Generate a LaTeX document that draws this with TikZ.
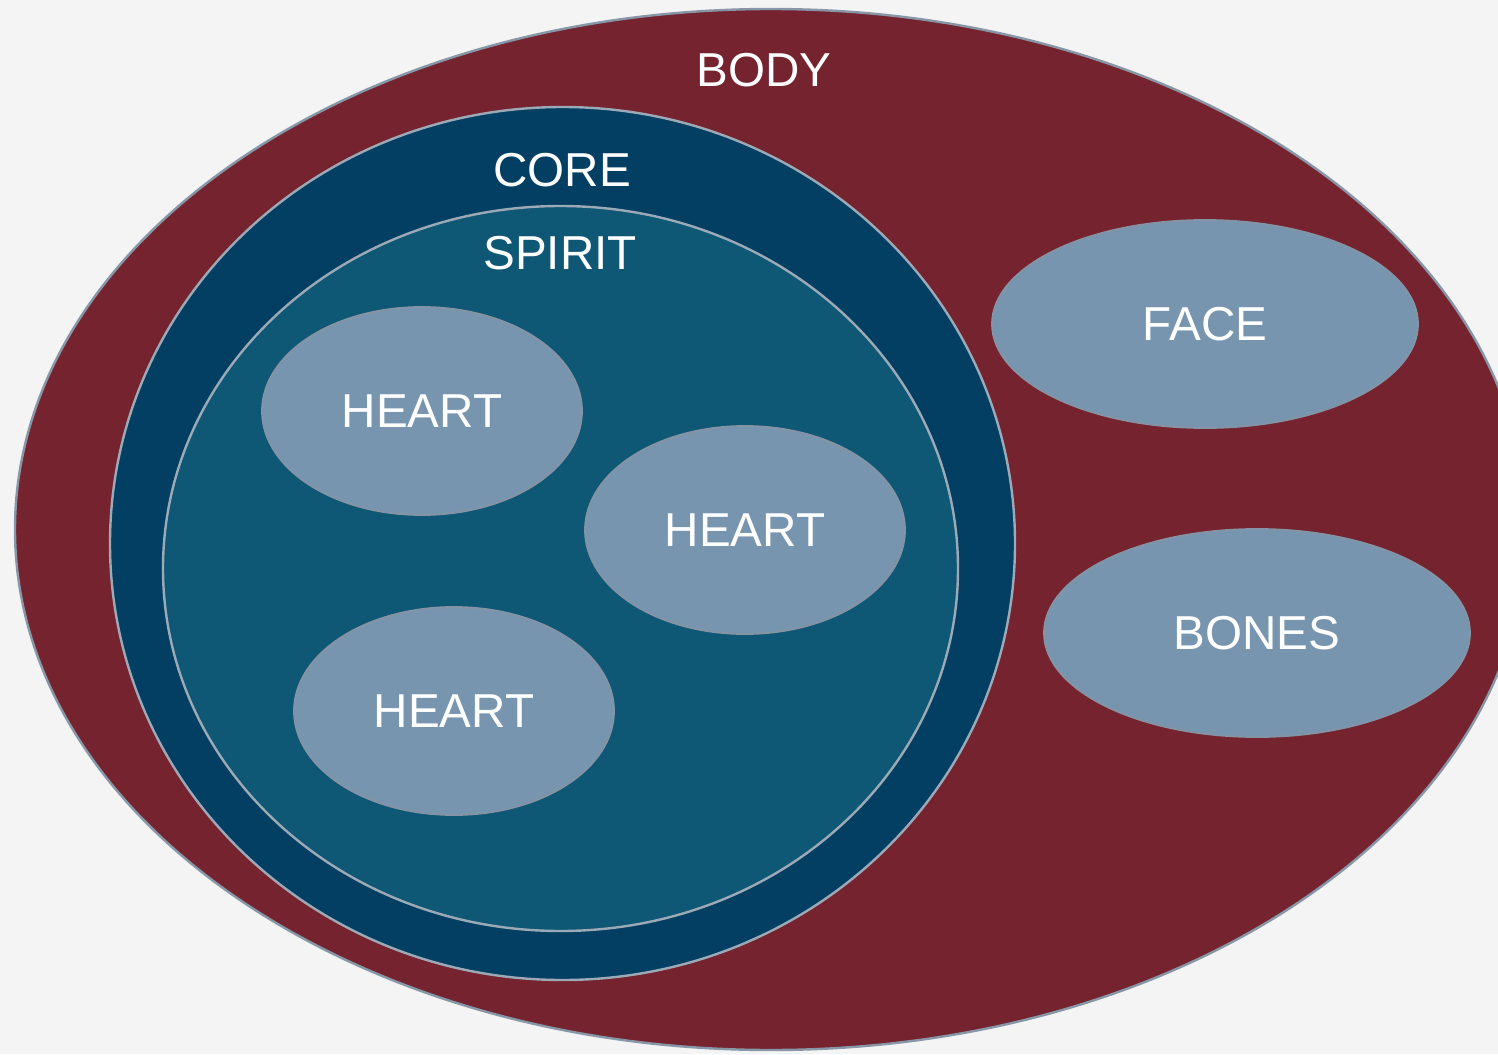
\documentclass[tikz,border=0pt]{standalone}
\usepackage{fontspec}
\setmainfont{Liberation Sans}
\usetikzlibrary{shapes.geometric}
\definecolor{bg}{HTML}{F4F4F4}
\definecolor{bodyred}{HTML}{74232F}
\definecolor{coreblue}{HTML}{023F62}
\definecolor{spiritblue}{HTML}{0E5775}
\definecolor{partblue}{HTML}{7895AF}
\definecolor{rimgray}{HTML}{8797A8}
\definecolor{rimlight}{HTML}{9CA9B6}
\definecolor{partrim}{HTML}{8494A4}
\begin{document}
\begin{tikzpicture}[x=0.5pt,y=-0.5pt,
  region/.style={ellipse,inner sep=0pt,line width=1.2pt},
  part/.style={ellipse,inner sep=0pt,fill=partblue,draw=partrim,line width=0.9pt,
    font=\fontsize{23.8}{28}\selectfont,text=white},
  title/.style={font=\fontsize{23.8}{28}\selectfont,text=white,inner sep=0pt}]
  \useasboundingbox (0,0) rectangle (1498,1054);
  \clip (0,0) rectangle (1498,1054);
  \fill[bg] (0,0) rectangle (1498,1054);
  % nested regions
  \node[region,fill=bodyred,draw=rimgray,minimum width=756pt,minimum height=520.5pt] (body) at (771,529.5) {};
  \node[region,fill=coreblue,draw=rimlight,minimum width=452.5pt,minimum height=436.5pt] (core) at (562.5,543.5) {};
  \node[region,fill=spiritblue,draw=rimlight,minimum width=397.5pt,minimum height=362.5pt] (spirit) at (560.5,568.5) {};
  % region titles
  \node[title] (bodylbl) at (764,70) {BODY};
  \node[title] (corelbl) at (562,170) {CORE};
  \node[title] (spiritlbl) at (560,253) {SPIRIT};
  % parts
  \node[part,minimum width=160pt,minimum height=104pt] (heartA) at (422,411) {HEART};
  \node[part,minimum width=160pt,minimum height=104pt] (heartB) at (745,530) {HEART};
  \node[part,minimum width=160pt,minimum height=104pt] (heartC) at (454,711) {HEART};
  \node[part,minimum width=213pt,minimum height=104pt] (face) at (1205,324) {FACE};
  \node[part,minimum width=213pt,minimum height=104pt] (bones) at (1257,633) {BONES};
\end{tikzpicture}
\end{document}
